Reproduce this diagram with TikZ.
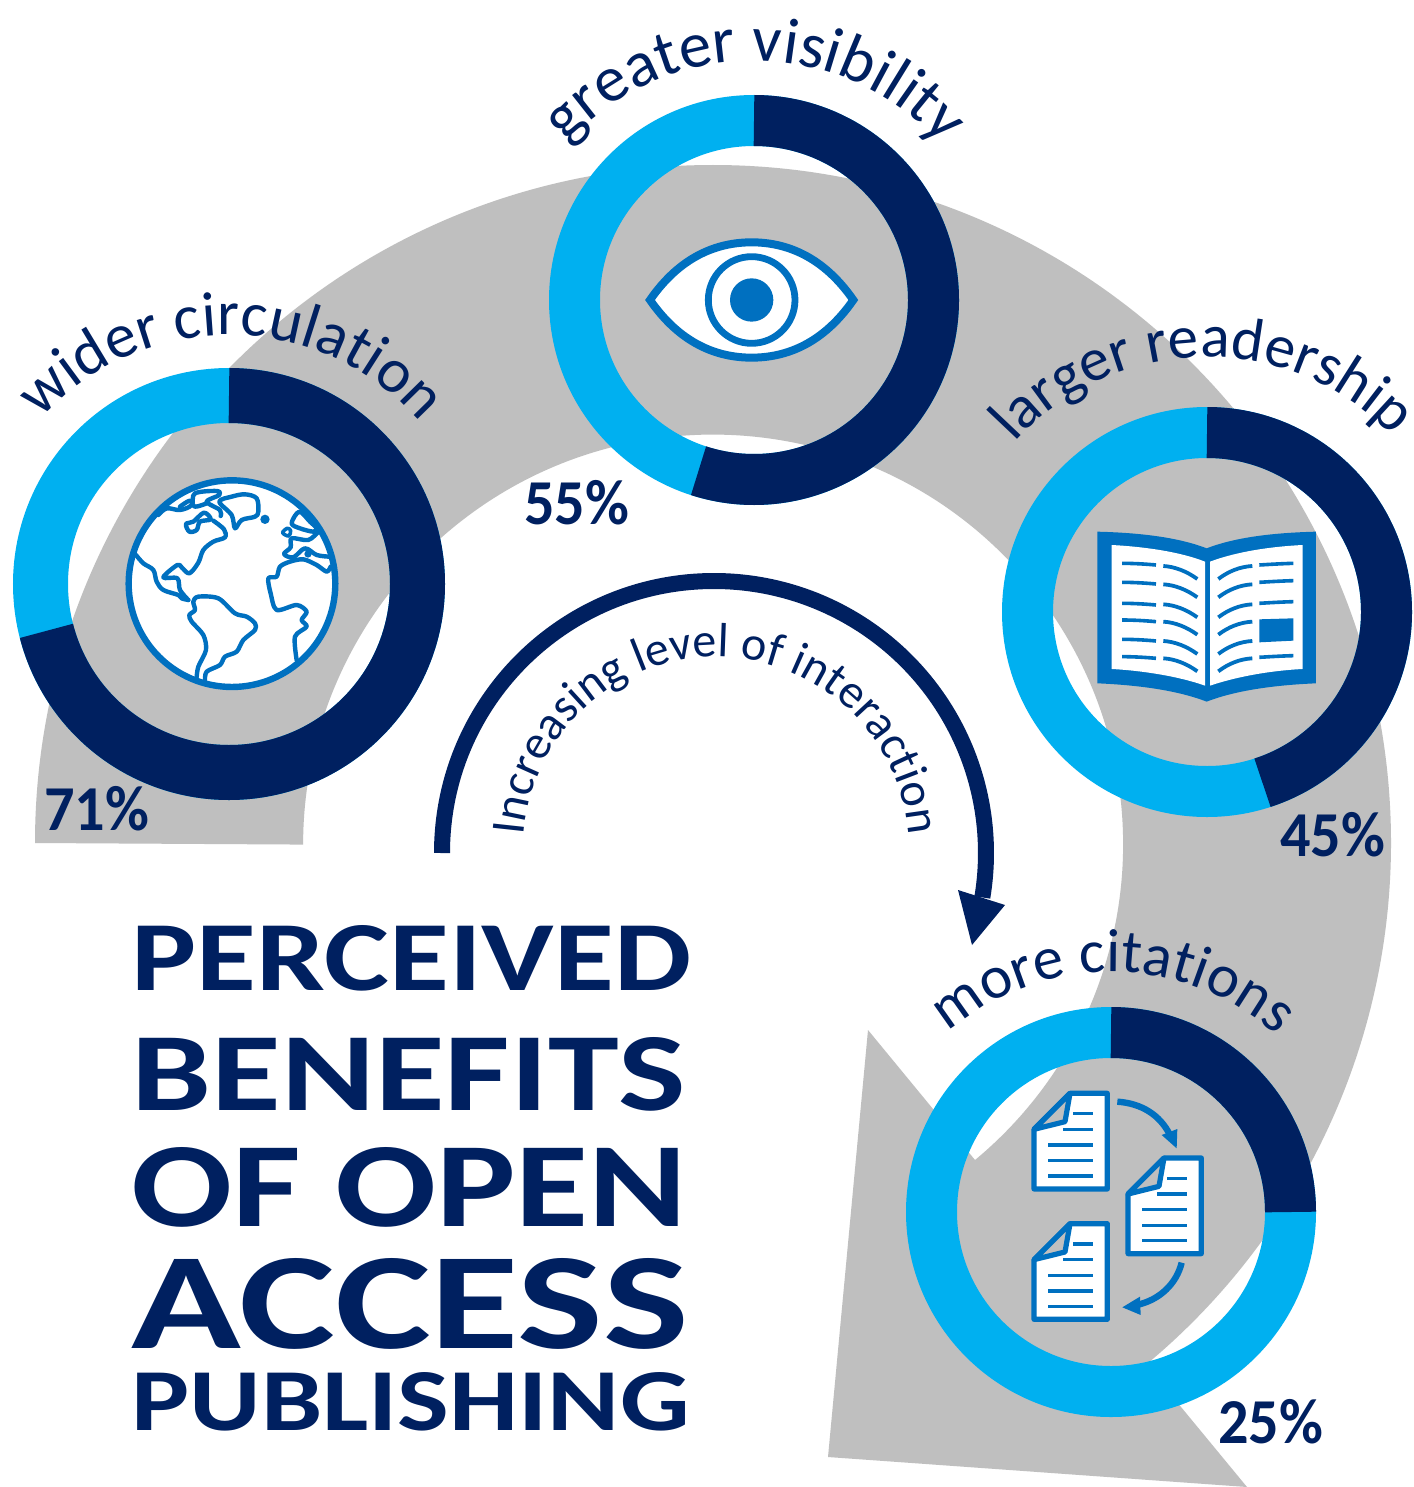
\documentclass[tikz,border=0pt]{standalone}
\usepackage{fontspec}
\usepackage{graphicx}
\setmainfont{Carlito}
\usetikzlibrary{decorations.text}
\definecolor{navy}{HTML}{002060}
\definecolor{sky}{HTML}{00B0F0}
\definecolor{iconblue}{HTML}{0070C0}
\definecolor{band}{HTML}{BFBFBF}
\newcommand{\donut}[5]{% cx cy Rout Rin frac
  \pgfmathsetmacro{\rmid}{(#3+#4)/2}
  \pgfmathsetmacro{\lw}{(#3-#4)/2}
  \pgfmathsetmacro{\endang}{-90+360*#5}
  \draw[sky,line width=\lw pt] (#1,#2) circle[radius=\rmid];
  \draw[navy,line width=\lw pt] (#1,#2) ++(-90:\rmid) arc[start angle=-90,end angle=\endang,radius=\rmid];
}
\newcommand{\curvedtext}[7]{% cx cy(screen) r a1 a2 size text
  \begin{scope}[yscale=-1]
  \path[decorate,decoration={text along path,text align={center},
    text={|\fontsize{#6}{#6}\selectfont\color{navy}|#7}}]
    (#1,-#2) ++(#4:#3) arc[start angle=#4,end angle=#5,radius=#3];
  \end{scope}
}
\newcommand{\titleline}[5]{% x baseline width height text
  \node[anchor=base west,inner sep=0pt,text=navy] at (#1,#2)
   {\resizebox{\dimexpr#3pt/2\relax}{\dimexpr#4pt/2\relax}{\bfseries #5}};
}
\newcommand{\pct}[3]{%
  \node[anchor=base west,inner sep=0pt,text=navy,font=\fontsize{32}{32}\selectfont\bfseries] at (#1,#2) {\scalebox{0.94}[1]{#3}};
}
\newcommand{\docicon}[2]{%
 \begin{scope}[shift={(#1,#2)}]
  \draw[docline,fill=white] (150,40)--(262,40)--(262,327)--(42,327)--(42,148)--cycle;
  \draw[docline,fill=band] (150,40)--(135,125)--(42,148)--cycle;
  \draw[rule] (160,101)--(220,101) (130,148)--(220,148) (84,195)--(220,195) (84,242)--(220,242) (84,288)--(220,288);
 \end{scope}
}
\tikzset{
  coast/.style={iconblue,line width=2.2pt,line join=round,line cap=round},
  docline/.style={iconblue,line width=2.6pt,line join=round},
  rule/.style={iconblue,line width=1.7pt},
}
\begin{document}
\begin{tikzpicture}[x=0.5pt,y=0.5pt,yscale=-1]
\useasboundingbox (0,0) rectangle (1413,1487);
\fill[white] (0,0) rectangle (1413,1487);
% grey curved arrow
\fill[band] (35,843) arc[start angle=180,end angle=410.3,radius=678]
  -- (1247,1487) -- (828,1457) -- (868,1030) -- (975,1160)
  arc[start angle=50.3,end angle=-180,radius=410] -- cycle;
% rings
\donut{754}{300}{205}{154}{0.55}
\donut{229}{584}{216}{161}{0.71}
\donut{1207}{612}{205}{154}{0.45}
\donut{1111}{1212}{205}{154}{0.25}
% interaction arrow
\draw[navy,line width=8pt] (442,853) arc[start angle=180,end angle=369.4,radius=272];
\fill[navy] (958,890)--(1005,905)--(972,945)--cycle;
% curved labels
\curvedtext{229}{587}{252}{165}{14}{31.5}{wider circulation}
\curvedtext{754}{313}{252}{165}{14.5}{32.5}{greater visibility}
\curvedtext{1207}{615}{258}{165}{17}{30.5}{larger readership}
\curvedtext{1111}{1220}{248}{165}{14}{30.5}{more citations}
\curvedtext{716}{850}{193}{195}{-15}{24}{Increasing level of interaction}
% percents
\pct{524}{524}{55\%}
\pct{44}{830}{71\%}
\pct{1280}{856}{45\%}
\pct{1218}{1443}{25\%}
% title
\titleline{131}{990}{560}{65}{PERCEIVED}
\titleline{131}{1110}{554}{73}{BENEFITS}
\titleline{131}{1226}{556}{79}{OF OPEN}
\titleline{131}{1348}{557}{90}{ACCESS}
\titleline{131}{1430}{558}{58}{PUBLISHING}
% eye
\begin{scope}[shift={(630,225)},scale=0.3333]
 \draw[iconblue,line width=4pt,fill=white,line join=miter]
  (60,225) .. controls (150,95) and (260,52) .. (365,52)
  .. controls (470,52) and (580,95) .. (670,225)
  .. controls (580,355) and (470,398) .. (365,398)
  .. controls (260,398) and (150,355) .. (60,225) -- cycle;
 \draw[iconblue,line width=3.4pt] (365,225) circle[radius=130];
 \fill[iconblue] (365,225) circle[radius=65];
\end{scope}
% globe
\begin{scope}[shift={(100,460)},scale=0.3333]
 \draw[iconblue,line width=3.2pt,fill=white] (396,371) circle[radius=310];
 \draw[coast] plot[smooth,tension=0.55] coordinates {(108,285)(130,310)(160,330)(170,365)(190,390)(235,405)(245,415)(265,420)};
 \draw[coast] plot[smooth,tension=0.55] coordinates {(265,420)(240,390)(232,355)(190,352)(232,315)(245,322)(268,340)(295,308)(310,270)(340,245)(375,232)(372,208)(340,182)};
 \draw[coast] plot[smooth cycle,tension=0.55] coordinates {(258,192)(280,185)(312,158)(332,178)(300,185)(290,210)(268,215)};
 \draw[coast] plot[smooth,tension=0.55] coordinates {(175,165)(200,145)(240,150)(275,135)(285,100)(350,93)(358,105)(320,125)(360,150)(362,168)};
 \draw[coast] plot[smooth,tension=0.55] coordinates {(240,140)(270,122)(285,140)(320,130)};
 \draw[coast] plot[smooth cycle,tension=0.55] coordinates {(358,125)(395,110)(435,103)(470,115)(475,155)(465,170)(425,180)(405,205)(395,165)};
 \fill[iconblue] (495,178) circle[radius=14];
 \draw[coast,line width=1.8pt] plot[smooth cycle,tension=0.6] coordinates {(548,218)(562,205)(572,212)(566,228)};
 \draw[coast] plot[smooth cycle,tension=0.55] coordinates {(575,190)(598,155)(630,185)(650,205)(640,215)(600,205)};
 \draw[coast] plot[smooth,tension=0.55] coordinates {(655,215)(625,240)(575,235)(572,262)(552,282)(580,292)(615,265)(650,285)(688,290)};
 \fill[iconblue] (624,282) circle[radius=11];
 \draw[coast] plot[smooth,tension=0.5] coordinates {(692,320)(680,335)(650,315)(610,298)(570,305)(540,320)(530,350)(505,355)(512,400)(530,450)(590,435)(620,455)(605,480)(620,500)(585,530)(590,600)};
 \draw[coast] plot[smooth,tension=0.5] coordinates {(315,662)(320,635)(360,615)(375,590)(410,575)(430,540)(465,510)(465,490)(440,470)(405,460)(355,415)(295,410)(280,425)(285,450)(268,465)(275,485)(310,525)(318,570)(295,620)(290,652)};
\end{scope}
% book
\begin{scope}[shift={(1080,520)},scale=0.3333]
 \fill[iconblue] (52,35) .. controls (170,38) and (290,50) .. (380,85) .. controls (470,50) and (590,38) .. (708,35) -- (708,490)
   .. controls (590,495) and (470,510) .. (380,545) .. controls (290,510) and (170,495) .. (52,490) -- cycle;
 \fill[white] (95,75) .. controls (190,80) and (300,95) .. (375,125) -- (375,497) .. controls (300,470) and (190,452) .. (95,447) -- cycle;
 \fill[white] (390,125) .. controls (470,95) and (570,80) .. (668,75) -- (668,447) .. controls (570,452) and (470,470) .. (390,497) -- cycle;
 \foreach \y in {130,187,250,300,358,410} {
   \draw[rule,line width=1.8pt] (126,\y) .. controls (160,\y) and (195,\y+2) .. (228,\y+5);
 }
 \foreach \y in {138,193,253,305,363,415} {
   \draw[rule,line width=1.9pt] (250,\y) .. controls (285,\y+2) and (320,\y+16) .. (352,\y+39);
   \draw[rule,line width=1.9pt] (415,\y+39) .. controls (445,\y+16) and (480,\y+2) .. (517,\y);
 }
 \foreach \y in {135,187,250,412} {
   \draw[rule,line width=1.8pt] (538,\y) .. controls (570,\y-2) and (605,\y-4) .. (640,\y-5);
 }
 \fill[iconblue] (538,298)--(640,295)--(640,362)--(538,367)--cycle;
\end{scope}
% documents
\begin{scope}[shift={(1020,1080)},scale=0.3333]
 \docicon{0}{0}
 \docicon{282}{194}
 \docicon{0}{391}
 \draw[iconblue,line width=3.2pt] (292,65) .. controls (365,70) and (420,105) .. (450,165);
 \fill[iconblue] (425,165)--(472,147)--(470,205)--cycle;
 \draw[iconblue,line width=3.2pt] (485,548) .. controls (470,610) and (420,660) .. (350,675);
 \fill[iconblue] (360,650)--(362,705)--(307,682)--cycle;
\end{scope}
\end{tikzpicture}
\end{document}
